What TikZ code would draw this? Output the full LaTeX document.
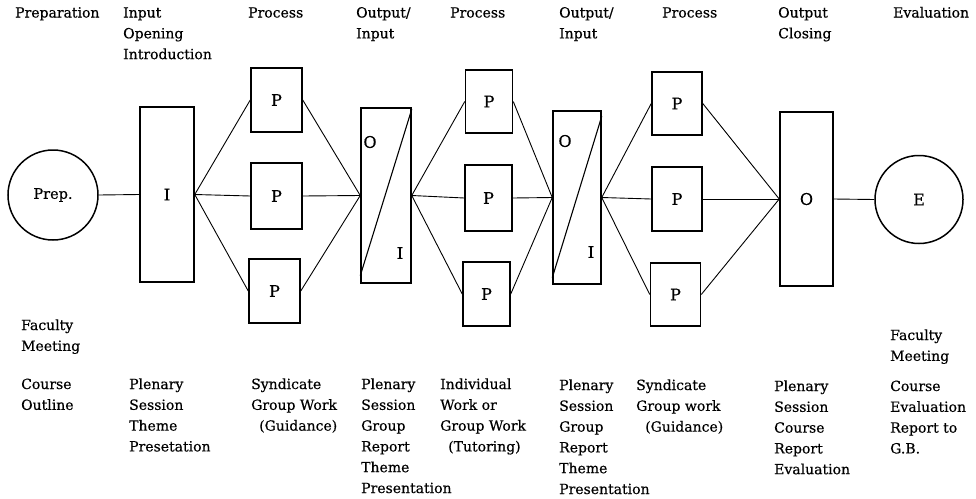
\documentclass[tikz,border=0pt]{standalone}
\usepackage{fontspec}
\setmainfont[FakeBold=0.5]{DejaVu Serif}
\newcommand{\mylines}[1]{\begin{tabular}[t]{@{}l@{}}#1\end{tabular}}
\begin{document}
\begin{tikzpicture}[x=1pt,y=-1pt,
  box/.style={draw, line width=1.5pt, inner sep=0pt, font=\fontsize{16}{16}\selectfont},
  circ/.style={draw, circle, line width=1.5pt, inner sep=0pt},
  link/.style={line width=0.9pt},
  lbl/.style={anchor=base west, inner sep=0pt, font=\fontsize{14}{20.8}\selectfont},
  big/.style={inner sep=0pt, font=\fontsize{16}{16}\selectfont}]
\useasboundingbox (0,0) rectangle (976,498);

% headers
\node[lbl] (h1) at (15,17.5) {\mylines{Preparation}};
\node[lbl] (h2) at (123,17.5) {\mylines{Input\\Opening\\Introduction}};
\node[lbl] (h3) at (248,17.5) {\mylines{Process}};
\node[lbl] (h4) at (356,17.5) {\mylines{Output/\\Input}};
\node[lbl] (h5) at (450,17.5) {\mylines{Process}};
\node[lbl] (h6) at (559,17.5) {\mylines{Output/\\Input}};
\node[lbl] (h7) at (662,17.5) {\mylines{Process}};
\node[lbl] (h8) at (778,17.5) {\mylines{Output\\Closing}};
\node[lbl] (h9) at (893,17.5) {\mylines{Evaluation}};

% shapes
\node[circ, minimum size=90, font=\fontsize{14.5}{14.5}\selectfont] (prep) at (53,195) {Prep.};
\node[box, minimum width=54, minimum height=175] (inp) at (167,194.5) {I};
\node[box, minimum width=51, minimum height=64] (p11) at (276.5,100) {P};
\node[box, minimum width=51, minimum height=66] (p12) at (276.5,196) {P};
\node[box, minimum width=51, minimum height=64] (p13) at (274.5,291) {P};
\node[box, minimum width=50, minimum height=175] (oi1) at (386,195.5) {};
\node[box, minimum width=47, minimum height=63] (p21) at (489,101.5) {P};
\node[box, minimum width=47, minimum height=66] (p22) at (488.5,198) {P};
\node[box, minimum width=47, minimum height=64] (p23) at (486.5,294) {P};
\node[box, minimum width=48, minimum height=173] (oi2) at (577,197.5) {};
\node[box, minimum width=50, minimum height=63] (p31) at (677,103.5) {P};
\node[box, minimum width=50, minimum height=64] (p32) at (677,199) {P};
\node[box, minimum width=50, minimum height=63] (p33) at (675.5,294.5) {P};
\node[box, minimum width=53, minimum height=174] (obox) at (806.5,199) {O};
\node[circ, minimum size=88, font=\fontsize{16}{16}\selectfont] (eval) at (919,199.5) {E};

% O/I contents
\node[big] (oi1o) at (370,142) {O};
\node[big] (oi1i) at (400,253) {I};
\node[big] (oi2o) at (565,141) {O};
\node[big] (oi2i) at (591,252) {I};
\draw[line width=1.1pt] ([yshift=8pt]oi1.south west) -- ([yshift=-2pt]oi1.north east);
\draw[line width=1.1pt] ([yshift=7pt]oi2.south west) -- ([yshift=-6pt]oi2.north east);

% connectors
\draw[link] (prep.east) -- (inp.west);
\foreach \p in {p11,p12,p13} {
  \draw[link] (inp.east) -- (\p.west);
  \draw[link] (\p.east) -- (oi1.west);
}
\foreach \p in {p21,p22,p23} {
  \draw[link] (oi1.east) -- (\p.west);
  \draw[link] (\p.east) -- (oi2.west);
}
\foreach \p in {p31,p32,p33} {
  \draw[link] (oi2.east) -- (\p.west);
  \draw[link] (\p.east) -- (obox.west);
}
\draw[link] (obox.east) -- (eval.west);

% bottom texts
\node[lbl] (b1) at (21,330) {\mylines{Faculty\\Meeting}};
\node[lbl] (b2) at (21,389) {\mylines{Course\\Outline}};
\node[lbl] (b3) at (129,389) {\mylines{Plenary\\Session\\Theme\\Presetation}};
\node[lbl] (b4) at (251,389) {\mylines{Syndicate\\Group Work\\\hspace*{8pt}(Guidance)}};
\node[lbl] (b5) at (361,389) {\mylines{Plenary\\Session\\Group\\Report\\Theme\\Presentation}};
\node[lbl] (b6) at (440,389) {\mylines{Individual\\Work or\\Group Work\\\hspace*{8pt}(Tutoring)}};
\node[lbl] (b7) at (559,390) {\mylines{Plenary\\Session\\Group\\Report\\Theme\\Presentation}};
\node[lbl] (b8) at (636,390) {\mylines{Syndicate\\Group work\\\hspace*{9pt}(Guidance)}};
\node[lbl] (b9) at (774,391) {\mylines{Plenary\\Session\\Course\\Report\\Evaluation}};
\node[lbl] (b10) at (890,340) {\mylines{Faculty\\Meeting}};
\node[lbl] (b11) at (890,391) {\mylines{Course\\Evaluation\\Report to\\G.B.}};
\end{tikzpicture}
\end{document}
